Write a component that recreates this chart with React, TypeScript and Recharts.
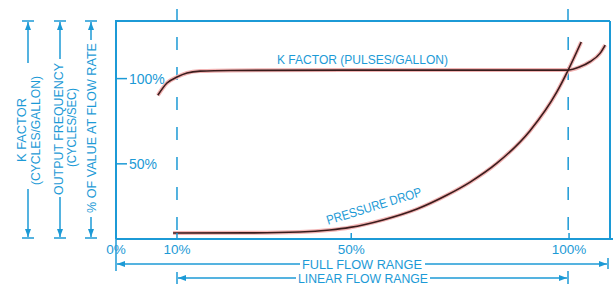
import { LineChart, Line, XAxis, YAxis, ReferenceLine } from "recharts";

const BLUE = "#1c9ad6";
const INK = "#3a1c1c";
const HALO = "#f2b4b4";
const FONT = "'Liberation Sans', Arial, sans-serif";

// flow axis: the "0%" mark sits at the origin, which is a little left of a true zero
const xTicks = [-4, 10, 50, 100];
const xTickLabels = ["0%", "10%", "50%", "100%"];
const yTicks = [50, 100];
const yTickLabels = ["50%", "100%"];

const kFactorFlow = [5.6, 7.7, 10, 12.3, 15.3, 22.2, 50, 99.8, 102.5, 104.8, 107.1, 108.3];
const kFactorValue = [90.2, 97.4, 100.9, 103.3, 104.4, 104.8, 105, 105, 106.9, 109.9, 114.8, 119.7];

const pressureFlow = [9.1, 26.8, 38.2, 45.1, 49.7, 57.3, 65.1, 72, 77.3, 83.5, 91, 97.2, 99.8, 102.8];
const pressureValue = [9.4, 9.5, 10, 11.2, 12.7, 17.1, 23.5, 31.7, 39.3, 50.5, 69.3, 92.2, 105, 121.5];

const kFactorData = kFactorFlow.map((x, i) => ({ x, y: kFactorValue[i] }));
const pressureData = pressureFlow.map((x, i) => ({ x, y: pressureValue[i] }));

const PLOT_LEFT = 116;
const AXIS_Y = 239;

function FlowTick(props: any) {
	const { x, payload } = props;
	const i = xTicks.indexOf(payload.value);
	return (
		<g>
			{i > 0 && (
				<line x1={x} x2={x} y1={AXIS_Y - 6} y2={AXIS_Y} stroke={BLUE} strokeWidth={1.5} />
			)}
			<text x={x} y={AXIS_Y + 15} textAnchor="middle" fill={BLUE} fontSize={13.5} fontFamily={FONT}>
				{xTickLabels[i]}
			</text>
		</g>
	);
}

function ValueTick(props: any) {
	const { y, payload } = props;
	const i = yTicks.indexOf(payload.value);
	return (
		<g>
			<line x1={PLOT_LEFT} x2={PLOT_LEFT + 11} y1={y} y2={y} stroke={BLUE} strokeWidth={1.5} />
			<text
				x={PLOT_LEFT + 13}
				y={y}
				dominantBaseline="central"
				fill={BLUE}
				fontSize={14}
				fontFamily={FONT}
			>
				{yTickLabels[i]}
			</text>
		</g>
	);
}

function Overlay() {
	const seg = (x1: number, y1: number, x2: number, y2: number, arrow = true) => (
		<line
			x1={x1}
			y1={y1}
			x2={x2}
			y2={y2}
			stroke={BLUE}
			strokeWidth={1.5}
			markerEnd={arrow ? "url(#dimArrow)" : undefined}
		/>
	);
	const vText = (x: number, y: number, len: number, s: string) => (
		<text
			x={x}
			y={y}
			transform={`rotate(-90 ${x} ${y})`}
			textAnchor="middle"
			dominantBaseline="central"
			textLength={len}
			lengthAdjust="spacingAndGlyphs"
		>
			{s}
		</text>
	);
	return (
		<svg
			width={613}
			height={284}
			style={{ position: "absolute", left: 0, top: 0, pointerEvents: "none" }}
		>
			<defs>
				<marker
					id="dimArrow"
					viewBox="0 0 8 6"
					refX={8}
					refY={3}
					markerWidth={8}
					markerHeight={6}
					markerUnits="userSpaceOnUse"
					orient="auto"
				>
					<path d="M0,0 L8,3 L0,6 z" fill={BLUE} />
				</marker>
			</defs>

			{/* frame top / right */}
			<line x1={115} y1={21} x2={610} y2={21} stroke={BLUE} strokeWidth={2} />
			<line x1={610} y1={21} x2={610} y2={239} stroke={BLUE} strokeWidth={2} />
			<line x1={609} y1={239} x2={613} y2={239} stroke={BLUE} strokeWidth={2} />

			{/* extension ticks above frame */}
			{seg(177, 9, 177, 21, false)}
			{seg(568, 9, 568, 21, false)}

			{/* left dimension lines */}
			{seg(22, 21, 34, 21, false)}
			{seg(22, 238, 34, 238, false)}
			{seg(28, 63, 28, 22)}
			{seg(28, 189, 28, 237)}
			{seg(54, 21, 66, 21, false)}
			{seg(54, 238, 66, 238, false)}
			{seg(60, 59, 60, 22)}
			{seg(60, 197, 60, 237)}
			{seg(85, 21, 97, 21, false)}
			{seg(85, 238, 97, 238, false)}
			{seg(91, 40, 91, 22)}
			{seg(91, 217, 91, 237)}

			<g fill={BLUE} fontFamily={FONT} fontSize={13}>
				{vText(21, 130, 64, "K FACTOR")}
				{vText(35, 130.5, 109, "(CYCLES/GALLON)")}
				{vText(58, 129, 132, "OUTPUT FREQUENCY")}
				{vText(71, 127.5, 79, "(CYCLES/SEC)")}
				{vText(91, 128, 170, "% OF VALUE AT FLOW RATE")}
			</g>

			{/* bottom dimension lines */}
			{seg(116, 239, 116, 271, false)}
			{seg(608, 258, 608, 269, false)}
			{seg(300, 264, 117, 264)}
			{seg(425, 264, 607, 264)}
			{seg(177, 272, 177, 284, false)}
			{seg(568, 271, 568, 284, false)}
			{seg(296, 278, 178, 278)}
			{seg(430, 278, 567, 278)}

			<g fill={BLUE} fontFamily={FONT} fontSize={12.5}>
				<text x={362} y={264.5} textAnchor="middle" dominantBaseline="central" textLength={120} lengthAdjust="spacingAndGlyphs">
					FULL FLOW RANGE
				</text>
				<text x={363} y={278.5} textAnchor="middle" dominantBaseline="central" textLength={130} lengthAdjust="spacingAndGlyphs">
					LINEAR FLOW RANGE
				</text>
			</g>
			<g fill={BLUE} fontFamily={FONT} fontSize={13}>
				<text x={362.5} y={59} textAnchor="middle" dominantBaseline="central" textLength={171} lengthAdjust="spacingAndGlyphs">
					K FACTOR (PULSES/GALLON)
				</text>
				<text
					x={374}
					y={206}
					transform="rotate(-17 374 206)"
					textAnchor="middle"
					dominantBaseline="central"
					textLength={99}
					lengthAdjust="spacingAndGlyphs"
				>
					PRESSURE DROP
				</text>
			</g>
		</svg>
	);
}

export default function App() {
	return (
		<div
			style={{
				position: "absolute",
				left: 0,
				top: 0,
				width: 613,
				height: 284,
				background: "#ffffff",
			}}
		>
			<LineChart
				width={613}
				height={284}
				margin={{ top: 21, right: 3, bottom: 25, left: 96 }}
				style={{ fontFamily: FONT }}
			>
				<XAxis
					type="number"
					dataKey="x"
					domain={[-4, 109.4]}
					ticks={xTicks}
					interval={0}
					allowDataOverflow
					height={20}
					tickLine={false}
					axisLine={{ stroke: BLUE, strokeWidth: 2 }}
					tick={<FlowTick />}
				/>
				<YAxis
					type="number"
					dataKey="y"
					domain={[5.9, 133.8]}
					ticks={yTicks}
					interval={0}
					allowDataOverflow
					width={20}
					tickLine={false}
					axisLine={{ stroke: BLUE, strokeWidth: 2 }}
					tick={<ValueTick />}
				/>

				<ReferenceLine
					segment={[
						{ x: 10, y: 133.8 },
						{ x: 10, y: 5.9 },
					]}
					stroke={BLUE}
					strokeWidth={1.5}
					strokeDasharray="0 16 13 1"
				/>
				<ReferenceLine
					segment={[
						{ x: 99.8, y: 133.8 },
						{ x: 99.8, y: 5.9 },
					]}
					stroke={BLUE}
					strokeWidth={1.5}
					strokeDasharray="0 16 13 1"
				/>

				<Line
					data={kFactorData}
					dataKey="y"
					type="monotone"
					stroke={HALO}
					strokeWidth={4}
					dot={false}
					activeDot={false}
					isAnimationActive={false}
				/>
				<Line
					data={pressureData}
					dataKey="y"
					type="monotone"
					stroke={HALO}
					strokeWidth={4}
					dot={false}
					activeDot={false}
					isAnimationActive={false}
				/>
				<Line
					data={kFactorData}
					dataKey="y"
					type="monotone"
					stroke={INK}
					strokeWidth={1.6}
					dot={false}
					activeDot={false}
					isAnimationActive={false}
				/>
				<Line
					data={pressureData}
					dataKey="y"
					type="monotone"
					stroke={INK}
					strokeWidth={1.6}
					dot={false}
					activeDot={false}
					isAnimationActive={false}
				/>
			</LineChart>
			<Overlay />
		</div>
	);
}
